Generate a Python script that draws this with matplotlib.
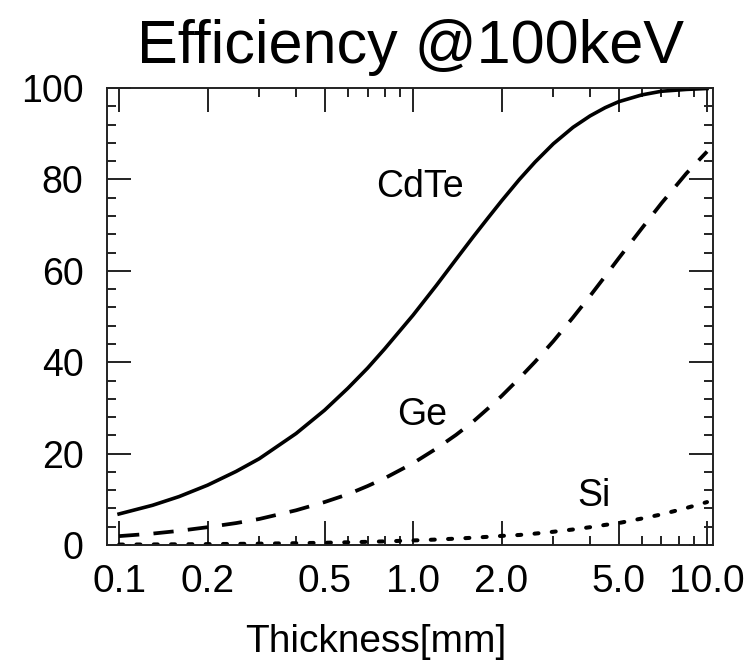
import numpy as np
import matplotlib
matplotlib.use("Agg")
import matplotlib.pyplot as plt
from matplotlib.ticker import FixedLocator, MultipleLocator, FixedFormatter, NullFormatter

# values
thickness = [0.1, 0.13, 0.16, 0.2, 0.25, 0.3, 0.4, 0.5, 0.6, 0.7, 0.8, 1.0, 1.2, 1.4,
             1.6, 1.8, 2.0, 2.3, 2.6, 3.0, 3.5, 4.0, 4.5, 5.0, 6.0, 7.0, 8.5, 10.0]
eff_cdte = [6.8, 8.7, 10.6, 13.1, 16.1, 18.9, 24.4, 29.5, 34.3, 38.7, 42.9, 50.3, 56.8, 62.5,
            67.4, 71.6, 75.3, 80.0, 83.8, 87.8, 91.4, 93.9, 95.7, 97.0, 98.5, 99.3, 99.7, 99.9]
eff_ge = [1.95, 2.5, 3.1, 3.9, 4.8, 5.7, 7.6, 9.4, 11.1, 12.9, 14.6, 17.9, 21.1, 24.1,
          27.0, 29.9, 32.6, 36.5, 40.1, 44.6, 49.8, 54.5, 58.8, 62.7, 69.3, 74.8, 81.3, 86.1]
eff_si = [0.1, 0.13, 0.16, 0.2, 0.25, 0.3, 0.4, 0.5, 0.6, 0.7, 0.8, 1.0, 1.2, 1.4,
          1.6, 1.8, 2.0, 2.2, 2.5, 2.9, 3.4, 3.9, 4.4, 4.8, 5.8, 6.7, 8.1, 9.4]

x_major = [0.1, 0.2, 0.5, 1.0, 2.0, 5.0, 10.0]
x_major_labels = ["0.1", "0.2", "0.5", "1.0", "2.0", "5.0", "10.0"]
x_minor = [0.3, 0.4, 0.6, 0.7, 0.8, 0.9, 3, 4, 6, 7, 8, 9]

font = "Liberation Sans"

fig = plt.figure(figsize=(7.5, 6.6), dpi=100)
ax = fig.add_axes([0.1427, 0.1742, 0.808, 0.6924])

ax.plot(thickness, eff_cdte, color="black", lw=2.6, ls="-")
ax.plot(thickness, eff_ge, color="black", lw=2.7, ls=(0, (5.4, 3.8)))
ax.plot(thickness, eff_si, color="black", lw=2.9, ls=(0, (1.0, 3.3)),
        dash_capstyle="round")

ax.set_xscale("log")
ax.set_xlim(0.091, 10.48)
ax.set_ylim(0, 100)

ax.xaxis.set_major_locator(FixedLocator(x_major))
ax.xaxis.set_major_formatter(FixedFormatter(x_major_labels))
ax.xaxis.set_minor_locator(FixedLocator(x_minor))
ax.xaxis.set_minor_formatter(NullFormatter())
ax.yaxis.set_major_locator(MultipleLocator(20))
ax.yaxis.set_minor_locator(MultipleLocator(4))

ax.tick_params(which="both", direction="in", top=True, right=True, width=1.4, color="#222222")
ax.tick_params(which="major", length=17)
ax.tick_params(which="minor", length=6.5)
ax.tick_params(axis="x", which="major", pad=14, labelsize=28)
ax.tick_params(axis="y", which="major", pad=17, labelsize=27)
for lab in ax.get_xticklabels() + ax.get_yticklabels():
    lab.set_family(font)
for sp in ax.spines.values():
    sp.set_linewidth(1.4)
    sp.set_color("#222222")

ax.text(1.056, 76.1, "CdTe", fontsize=27, family=font, ha="center", va="baseline")
ax.text(1.073, 26.3, "Ge", fontsize=27, family=font, ha="center", va="baseline")
ax.text(4.13, 8.5, "Si", fontsize=27, family=font, ha="center", va="baseline")

ax.set_title("Efficiency @100keV", fontsize=44, family=font, pad=18)
fig.text(376 / 750, 0.0121, "Thickness[mm]", fontsize=28, family=font,
         ha="center", va="baseline")

fig.savefig("out.png", dpi=100)
